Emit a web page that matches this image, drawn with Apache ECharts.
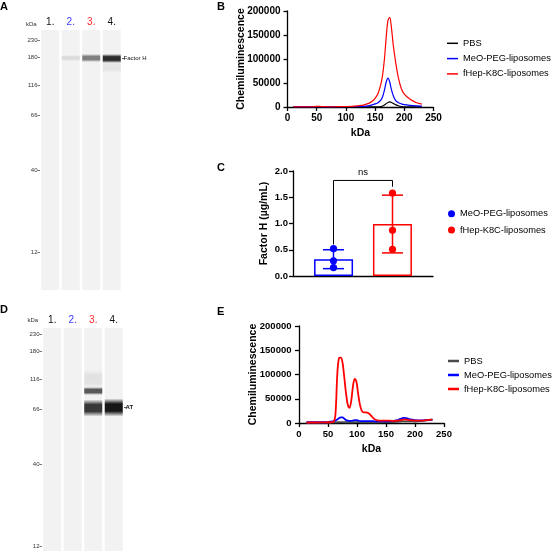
<!DOCTYPE html>
<html><head><meta charset="utf-8">
<script src="https://cdn.jsdelivr.net/npm/echarts@6/dist/echarts.min.js"></script>
<style>html,body{margin:0;padding:0;background:#fff}#c{width:553px;height:551px}</style>
</head><body><div id="c"></div>
<script>
// ---------- data ----------
const laneLabels = ['1.', '2.', '3.', '4.'];
const laneColors = ['#111111', '#3a3aff', '#ff2a2a', '#111111'];
const ladderKDa = ['230', '180', '116', '66', '40', '12'];
const ladderPos = [0, 17.5, 45.5, 75.5, 130.5, 212];     // migration from 230 kDa marker
// gel bands: [lane, centre, halfHeight, intensity]
const bandsA = [[1, 18, 3, 0.10], [2, 18, 4, 0.50], [3, 18.5, 4.5, 0.88], [3, 27, 6, 0.06]];
const bandsD = [[2, 45, 9, 0.07], [2, 57, 4, 0.68], [2, 74, 8.5, 0.82], [3, 73.5, 9, 0.97]];
const targetA = ['Factor H'];
const targetPosA = [18];
const targetD = ['AT'];
const targetPosD = [73.5];

const seriesNames = ['PBS', 'MeO-PEG-liposomes', 'fHep-K8C-liposomes'];

const kdaB = [10,20,30,40,50,55,60,70,80,90,100,110,120,130,140,145,150,155,160,163,166,169,172,175,178,181,185,190,195,200,210,220,230];
const pbsB = [100,100,100,100,100,100,100,100,100,100,100,100,100,100,100,100,150,300,800,2000,4000,7000,9500,10500,9500,7500,5000,2500,1000,400,200,100,100];
const meoB = [100,100,100,100,200,200,200,200,300,400,500,700,1000,1500,3000,4500,6500,9000,15000,22000,35000,52000,60000,52000,36000,24000,14000,9000,6500,5000,3500,2500,2000];
const fhepB = [300,300,300,300,1200,1500,600,400,500,700,1000,1500,2500,4000,8000,12000,18000,28000,48000,68000,100000,145000,180000,187000,165000,130000,95000,60000,38000,27000,16000,9500,6000];

const kdaE = [13,20,30,40,50,55,60,63,66,69,72,75,78,81,84,87,90,93,96,99,102,105,108,111,115,120,125,130,135,140,150,160,170,175,180,185,190,200,210,220,230];
const pbsE = [500,600,800,900,1000,1000,1200,1300,1500,1600,1700,1700,1600,1500,1500,1500,1500,1500,1600,1700,1700,1600,1500,1500,1500,1500,1500,1500,1500,1500,1600,2000,2500,3000,3500,3500,3500,3000,4000,5500,7000];
const meoE = [1500,1500,1500,1500,2000,3000,4000,5000,7000,10000,11500,11500,9000,6000,5000,4500,4500,5000,6000,6000,5000,4000,4000,4000,4000,4000,4000,3500,3500,3500,3500,4000,6000,8500,10500,10000,8000,6000,5500,6000,7000];
const fhepE = [1000,1000,1000,1200,1500,1500,3000,20000,100000,134000,135000,125000,95000,62000,38000,31000,45000,75000,91000,85000,60000,38000,26000,22000,22000,20000,14000,8000,5500,5000,5000,4500,5000,6000,7000,7000,6000,5000,5000,6000,7000];

const groupsC = ['MeO-PEG-liposomes', 'fHep-K8C-liposomes'];
const meanC = [0.32, 0.99];
const sdC = [0.18, 0.55];
const pointsC = [[0.52, 0.29, 0.16], [1.58, 0.87, 0.51]];
const bracketC = [0.60, 1.70, 1.82];   // left leg bottom, right leg bottom, top
const sigLabel = 'ns';

// ---------- styles ----------
const FONT = '"Liberation Sans", Arial, Helvetica, sans-serif';
const BLUE = '#0000ff', RED = '#ff0000';
const lineColorsB = ['#000000', BLUE, RED];
const lineColorsE = ['#4a4a4a', BLUE, RED];

const chart = echarts.init(document.getElementById('c'));

function laneBg(xi, yi) {
  return {
    type: 'custom', xAxisIndex: xi, yAxisIndex: yi, silent: true, z: 1,
    data: laneLabels.map((_, i) => [i, 0]), encode: { x: 0, y: 1 },
    renderItem: (p, api) => {
      const cs = p.coordSys;
      const cx = api.coord([api.value(0), 0])[0];
      const w = api.size([1, 0])[0] * 0.88;
      return { type: 'rect', shape: { x: cx - w / 2, y: cs.y, width: w, height: cs.height }, style: { fill: '#f2f2f2' } };
    }
  };
}
function bandSer(xi, yi, bands) {
  return {
    type: 'custom', xAxisIndex: xi, yAxisIndex: yi, silent: true, z: 2,
    data: bands, encode: { x: 0, y: 1 },
    renderItem: (p, api) => {
      const lane = api.value(0), c = api.value(1), h = api.value(2), a = api.value(3);
      const cx = api.coord([lane, c])[0];
      const w = api.size([1, 0])[0] * 0.88;
      const y0 = api.coord([lane, c - h])[1], y1 = api.coord([lane, c + h])[1];
      const col = o => 'rgba(15,15,15,' + o + ')';
      return {
        type: 'rect', shape: { x: cx - w / 2, y: Math.min(y0, y1), width: w, height: Math.abs(y1 - y0) },
        style: { fill: { type: 'linear', x: 0, y: 0, x2: 0, y2: 1, colorStops: [
          { offset: 0, color: col(0) }, { offset: 0.3, color: col(a) }, { offset: 0.7, color: col(a) }, { offset: 1, color: col(0) }] } }
      };
    }
  };
}
function nearest(arr, v) { let b = 0; arr.forEach((x, i) => { if (Math.abs(x - v) < Math.abs(arr[b] - v)) b = i; }); return b; }
function gelX(gi, margin) {
  return {
    type: 'category', gridIndex: gi, position: 'top', data: laneLabels,
    axisLine: { show: false }, axisTick: { show: false }, splitLine: { show: false },
    axisLabel: { fontSize: 10, margin: margin, fontFamily: FONT, color: (v, i) => laneColors[i] }
  };
}
function gelY(gi, min, max) {
  return {
    type: 'value', gridIndex: gi, inverse: true, min: min, max: max, position: 'left',
    axisLine: { show: false }, splitLine: { show: false },
    axisTick: { show: true, customValues: ladderPos, length: 2.5, lineStyle: { color: '#555', width: 0.8 } },
    axisLabel: { show: true, customValues: ladderPos, fontSize: 6, color: '#333', margin: 2.5, fontFamily: FONT,
      formatter: v => ladderKDa[nearest(ladderPos, v)] }
  };
}
function gelYRight(gi, min, max, pos, labels, bold) {
  return {
    type: 'value', gridIndex: gi, inverse: true, min: min, max: max, position: 'right',
    axisLine: { show: false }, splitLine: { show: false },
    axisTick: { show: true, customValues: pos, length: 2.5, lineStyle: { color: '#333', width: 0.8 } },
    axisLabel: { show: true, customValues: pos, fontSize: 6, color: '#111', margin: 1.5, fontFamily: FONT,
      fontWeight: bold ? 'bold' : 'normal', formatter: v => labels[nearest(pos, v)] }
  };
}
const axLine = { show: true, onZero: true, lineStyle: { color: '#000', width: 1.3 } };
const axTick = { show: true, length: 4, lineStyle: { color: '#000', width: 1.3 } };
const axLab = fs => ({ color: '#000', fontWeight: 'bold', fontSize: fs, fontFamily: FONT });
const nameTS = { color: '#000', fontWeight: 'bold', fontSize: 10.5, fontFamily: FONT };

function valX(gi, fs) {
  return { type: 'value', gridIndex: gi, min: 0, max: 250, interval: 50, name: 'kDa', nameLocation: 'middle', nameGap: 21,
    nameMoveOverlap: false,
    nameTextStyle: nameTS, axisLine: axLine, axisTick: axTick, axisLabel: Object.assign({ margin: 6, formatter: v => String(v) }, axLab(fs)), splitLine: { show: false } };
}
function valY(gi, gap, fs, margin) {
  return { type: 'value', gridIndex: gi, min: 0, max: 200000, interval: 50000, name: 'Chemiluminescence', nameLocation: 'middle', nameGap: gap,
    nameMoveOverlap: false,
    nameTextStyle: nameTS, axisLine: axLine, axisTick: axTick, axisLabel: Object.assign({ margin: margin, formatter: v => String(v) }, axLab(fs)), splitLine: { show: false } };
}
function lineSer(name, xs, ys, xi, yi, color, width) {
  return { type: 'line', name: name, xAxisIndex: xi, yAxisIndex: yi, data: xs.map((x, i) => [x, ys[i]]),
    symbol: 'none', showSymbol: false, smooth: 0.35, lineStyle: { color: color, width: width }, itemStyle: { color: color } };
}

const barW = 39, barGapPx = 20;
const groupOffset = g => (g - 0.5) * (barW + barGapPx);
const colorsC = [BLUE, RED];

const series = [
  laneBg(0, 0), bandSer(0, 0, bandsA),
  laneBg(1, 1), bandSer(1, 1, bandsD),
  lineSer(seriesNames[0], kdaB, pbsB, 2, 2, lineColorsB[0], 1.2),
  lineSer(seriesNames[1], kdaB, meoB, 2, 2, lineColorsB[1], 1.2),
  lineSer(seriesNames[2], kdaB, fhepB, 2, 2, lineColorsB[2], 1.2),
  lineSer(seriesNames[0], kdaE, pbsE, 4, 4, lineColorsE[0], 1.8),
  lineSer(seriesNames[1], kdaE, meoE, 4, 4, lineColorsE[1], 1.8),
  lineSer(seriesNames[2], kdaE, fhepE, 4, 4, lineColorsE[2], 1.8),
];
groupsC.forEach((g, i) => {
  series.push({ type: 'bar', name: g, xAxisIndex: 3, yAxisIndex: 3, data: [meanC[i]], barWidth: barW, barGap: '51%',
    itemStyle: { color: '#fff', borderColor: colorsC[i], borderWidth: 1.5 } });
});
// error bars
series.push({ type: 'custom', xAxisIndex: 3, yAxisIndex: 3, silent: true, z: 5, clip: false,
  data: meanC.map((m, i) => [0, m, i, sdC[i]]), encode: { x: 0, y: 1 },
  renderItem: (p, api) => {
    const g = api.value(2), m = api.value(1), s = api.value(3);
    const cx = api.coord([0, m])[0] + groupOffset(g);
    const yl = api.coord([0, m - s])[1], yh = api.coord([0, m + s])[1];
    const st = { stroke: colorsC[g], lineWidth: 1.5 };
    return { type: 'group', children: [
      { type: 'line', shape: { x1: cx, y1: yl, x2: cx, y2: yh }, style: st },
      { type: 'line', shape: { x1: cx - 10.5, y1: yl, x2: cx + 10.5, y2: yl }, style: st },
      { type: 'line', shape: { x1: cx - 10.5, y1: yh, x2: cx + 10.5, y2: yh }, style: st }] };
  } });
// points
const ptData = [];
pointsC.forEach((arr, g) => arr.forEach(v => ptData.push([0, v, g])));
series.push({ type: 'custom', xAxisIndex: 3, yAxisIndex: 3, silent: true, z: 6, clip: false,
  data: ptData, encode: { x: 0, y: 1 },
  renderItem: (p, api) => {
    const g = api.value(2);
    const pt = api.coord([0, api.value(1)]);
    return { type: 'circle', shape: { cx: pt[0] + groupOffset(g), cy: pt[1], r: 3.6 }, style: { fill: colorsC[g] } };
  } });
// significance bracket
series.push({ type: 'custom', xAxisIndex: 3, yAxisIndex: 3, silent: true, z: 6, clip: false,
  data: [[0, bracketC[2], bracketC[0], bracketC[1]]], encode: { x: 0, y: 1 },
  renderItem: (p, api) => {
    const top = api.coord([0, api.value(1)]);
    const yl = api.coord([0, api.value(2)])[1], yr = api.coord([0, api.value(3)])[1];
    const xl = top[0] + groupOffset(0), xr = top[0] + groupOffset(1);
    return { type: 'group', children: [
      { type: 'polyline', shape: { points: [[xl, yl], [xl, top[1]], [xr, top[1]], [xr, yr]] }, style: { stroke: '#000', lineWidth: 1, fill: null } },
      { type: 'text', x: (xl + xr) / 2, y: top[1] - 3, style: { text: sigLabel, fontSize: 9.5, fontFamily: FONT, fill: '#000', align: 'center', verticalAlign: 'bottom' } }] };
  } });

const legendBase = { orient: 'vertical', padding: 0, icon: 'rect', itemWidth: 11, selectedMode: false,
  textStyle: { fontSize: 9.3, lineHeight: 12, color: '#000', fontFamily: FONT } };

const option = {
  animation: false,
  textStyle: { fontFamily: FONT },
  title: [
    { text: 'A', left: 0, top: 1 }, { text: 'B', left: 217, top: 1 }, { text: 'C', left: 217, top: 162 },
    { text: 'D', left: 0, top: 304 }, { text: 'E', left: 217, top: 306 }
  ].map(t => Object.assign(t, { padding: 0, textStyle: { fontSize: 11, fontWeight: 'bold', color: '#000', fontFamily: FONT } })),
  graphic: [
    { type: 'text', left: 26, top: 21.5, style: { text: 'kDa', fontSize: 6, fill: '#333', fontFamily: FONT } },
    { type: 'text', left: 27.5, top: 317, style: { text: 'kDa', fontSize: 6, fill: '#333', fontFamily: FONT } }
  ],
  grid: [
    { left: 40, top: 30, width: 82, height: 260 },
    { left: 42, top: 328, width: 82, height: 223 },
    { left: 287.5, top: 11, width: 146, height: 96 },
    { left: 293, top: 171, width: 140, height: 105 },
    { left: 299, top: 326, width: 145, height: 97 }
  ],
  xAxis: [
    gelX(0, 3), gelX(1, 2.5),
    valX(2, 10),
    { type: 'category', gridIndex: 3, data: ['Factor H'], axisLine: axLine, axisTick: { show: false }, axisLabel: { show: false }, splitLine: { show: false } },
    valX(4, 9.5)
  ],
  yAxis: [
    gelY(0, -10, 250), gelY(1, -6, 217),
    valY(2, 41, 10, 7),
    { type: 'value', gridIndex: 3, min: 0, max: 2, interval: 0.5, name: 'Factor H (µg/mL)', nameLocation: 'middle', nameGap: 23,
      nameMoveOverlap: false,
      nameTextStyle: nameTS, axisLine: axLine, axisTick: axTick, axisLabel: Object.assign({ margin: 5, formatter: v => v.toFixed(1) }, axLab(9.5)), splitLine: { show: false } },
    valY(4, 40, 9.5, 7.5),
    gelYRight(0, -10, 250, targetPosA, targetA, false),
    gelYRight(1, -6, 217, targetPosD, targetD, true)
  ],
  legend: [
    Object.assign({}, legendBase, { left: 447, top: 37.3, itemHeight: 1.5, itemGap: 3.3,
      data: seriesNames.map((n, i) => ({ name: n, itemStyle: { color: lineColorsB[i] } })) }),
    Object.assign({}, legendBase, { left: 448, top: 207.7, icon: 'circle', itemWidth: 7, itemHeight: 7, itemGap: 4.3,
      data: groupsC.map((n, i) => ({ name: n, icon: 'circle', itemStyle: { color: colorsC[i], borderWidth: 0 } })) }),
    Object.assign({}, legendBase, { left: 448, top: 355, itemHeight: 2.5, itemGap: 2,
      data: seriesNames.map((n, i) => ({ name: n, itemStyle: { color: lineColorsE[i] } })) })
  ],
  series: series
};
chart.setOption(option);
</script></body></html>
